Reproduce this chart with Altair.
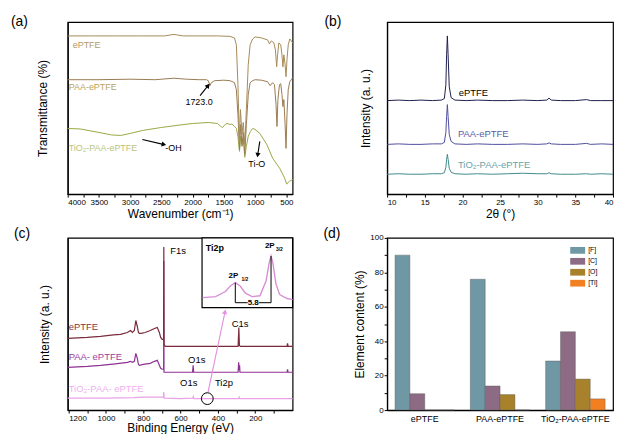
import altair as alt
import pandas as pd

FONT = "Liberation Sans"

# ---------------- (a) FTIR ----------------
a_wn_eptfe = [4000, 3600, 3200, 2800, 2450, 2300, 2150, 1900, 1600, 1400, 1330, 1300, 1275, 1252, 1235,
              1210, 1190, 1164, 1140, 1110, 1080, 1040, 1000, 900, 800, 770, 740, 700, 675, 655, 640, 620,
              590, 570, 555, 540, 520, 505, 490, 470, 445, 420, 400]
a_t_eptfe = [159, 159, 159, 159, 159, 160.5, 159, 159, 159, 158.5, 157, 150, 110, 55, 85,
             60, 72, 50, 85, 130, 150, 156, 158, 157, 155, 151, 154, 152, 145, 128, 140, 152,
             150, 140, 128, 140, 130, 118, 135, 150, 156, 154, 152]
a_wn_paa = [4000, 3500, 3000, 2600, 2300, 2100, 1900, 1780, 1750, 1723, 1700, 1650, 1500, 1400, 1330,
            1300, 1275, 1250, 1230, 1210, 1190, 1165, 1140, 1110, 1080, 1040, 1000, 900, 800, 760, 720,
            690, 665, 650, 635, 610, 590, 570, 555, 540, 520, 505, 490, 470, 445, 420, 400]
a_t_paa = [115, 115, 115.5, 115, 116.5, 115.5, 115, 115, 114, 109, 112, 114, 114.5, 114, 112,
           105, 80, 45, 70, 48, 62, 40, 70, 100, 112, 114, 115, 114.5, 113, 109, 112,
           110, 90, 68, 95, 110, 111, 100, 88, 95, 70, 46, 80, 105, 113, 115, 117]
a_wn_tio2 = [4000, 3800, 3500, 3300, 3150, 3000, 2800, 2500, 2200, 2000, 1750, 1600, 1560, 1520, 1480,
             1450, 1400, 1370, 1330, 1300, 1275, 1250, 1230, 1210, 1190, 1165, 1140, 1110, 1075, 1040,
             1000, 925, 814, 718, 607, 527, 495, 470, 448, 416, 400]
a_t_tio2 = [66, 65.5, 62, 59.5, 59, 61, 64, 67, 69.5, 71, 72, 71, 68.5, 67, 70,
            71, 70, 70.5, 68, 66, 58, 43, 58, 50, 56, 37, 48, 58, 63, 66,
            65, 61, 50, 36, 26, 16, 10, 12, 13, 14, 15]
a_lab_text = ["ePTFE", "PAA-ePTFE", "TiO₂-PAA-ePTFE", "-OH"]
a_lab_x = [3920, 3984, 3984, 2439]
a_lab_y = [150, 108, 46, 46]
a_lab_color = ["#b39a66", "#bba45a", "#b9c47e", "black"]
a_clab_text = ["1723.0", "Ti-O"]
a_clab_x = [1897, 973]
a_clab_y = [93, 30]
a_arrow_x1 = [1881, 2805, 925]
a_arrow_y1 = [99, 55, 53]
a_arrow_x2 = [1760, 2471, 957]
a_arrow_y2 = [108.5, 50, 40]
a_arrow_angle = [38, 103, 189]

# ---------------- (b) XRD ----------------
b_theta = [10, 11.5, 13, 14.5, 16, 17.2, 17.6, 17.8, 17.9, 18.0, 18.1, 18.25, 18.5, 19, 20.5, 22, 24, 26,
           28, 30, 31.2, 31.5, 31.8, 33, 35, 36.5, 37, 38.5, 40]
b_i_eptfe = [94, 94.5, 94, 94.5, 94, 94.5, 96, 110, 140, 159, 140, 108, 97, 94.5, 94, 94.5, 94, 94,
             94.5, 94, 94.5, 96.5, 94.5, 94, 94, 95, 94, 94, 94]
b_i_paa = [50, 50.5, 50, 50, 50.5, 50.5, 52, 62, 78, 90, 78, 60, 53, 50.5, 50, 50.5, 50, 50,
           50.5, 50, 50.5, 51.5, 50.5, 50, 50, 51, 50, 50.5, 50]
b_i_tio2 = [20, 20.5, 20, 20, 20.5, 20.5, 21.5, 27, 35, 40, 35, 26, 22, 20.5, 20, 20.5, 20, 20.5,
            21, 20.5, 20.5, 21.5, 20.5, 20, 20, 20.5, 20, 20.5, 20]
b_lab_text = ["ePTFE", "PAA-ePTFE", "TiO₂-PAA-ePTFE"]
b_lab_x = [19.5, 19.4, 19.4]
b_lab_y = [102, 60, 29]
b_lab_color = ["black", "#5a5aa8", "#6aa3aa"]

# ---------------- (c) XPS ----------------
c_ev_eptfe = [1205, 1100, 1029, 960, 922, 885, 869, 858, 848, 840, 832, 826, 821, 811, 790, 763, 740, 725,
              714, 707, 699, 691, 690, 689, 683, 600, 500, 400, 300, 292, 288, 285, 280, 200, 100, 30, 27, 24, 0]
c_i_eptfe = [72, 73, 74, 75.5, 76, 78, 80, 78, 80, 90, 84, 78, 77, 77, 78, 80, 82, 83,
             78, 73, 71, 71, 164, 66, 64, 64, 64, 64, 64, 64, 83, 65, 64, 64, 64, 64, 67, 64, 64]
c_ev_paa = [1205, 1100, 1029, 950, 885, 869, 858, 848, 840, 832, 826, 821, 800, 763, 740, 725, 714, 707,
            699, 691, 690, 689, 683, 600, 536, 533, 530, 400, 292, 289, 286, 284, 282, 200, 30, 27, 24, 0]
c_i_paa = [43, 44, 45, 46.5, 48, 49, 48, 49, 57, 52, 46, 45, 46, 47, 49, 50, 45, 42,
           41, 41, 150, 38, 38, 38, 38, 45, 38, 38, 38, 48, 40, 45, 38, 38, 38, 41, 38, 38]
c_ev_tio2 = [1205, 1000, 850, 800, 700, 692, 690, 688, 600, 535, 532, 529, 460, 300, 289, 286, 283, 0]
c_i_tio2 = [12, 12, 12.5, 13, 13, 13, 18, 12, 11.5, 12, 13.5, 11.5, 11.5, 11.5, 11.5, 13, 11.5, 11.5]
c_lab_text = ["F1s", "C1s", "O1s", "O1s", "Ti2p", "ePTFE", "PAA- ePTFE", "TiO₂-PAA- ePTFE"]
c_lab_x = [656, 326, 560, 603, 416, 1200, 1200, 1200]
c_lab_y = [160, 86, 50, 27, 27, 83, 53, 21]
c_lab_color = ["black", "black", "black", "black", "black", "#8b3040", "#9a40a0", "#f0b0f0"]
c_circle_x = [457]
c_circle_y = [11.5]
c_arrow_x1 = [453]
c_arrow_y1 = [18]
c_arrow_x2 = [363]
c_arrow_y2 = [98]
c_arrow_angle = [12]
# inset Ti2p
i_ev = [469.9, 467.8, 466.2, 465.4, 464.6, 463.8, 463.0, 461.9, 460.6, 459.6, 459.1, 458.8, 458.5,
        458.0, 457.4, 456.2, 455.3]
i_int = [14.3, 15.7, 23, 31, 35.7, 31, 21, 15.7, 17, 38.6, 64, 74, 64, 34, 18.6, 13, 11.4]
i_vline_x = [464.6, 458.8]
i_vline_top = [35.7, 74]
i_vline_bot = [7, 7]
i_hline_x1 = [464.6, 460.8]
i_hline_x2 = [462.6, 458.8]
i_hline_y = [7, 7]
i_frame = [470, 455.3, 0, 100]

# ---------------- (d) element content ----------------
d_samples = ["ePTFE", "PAA-ePTFE", "TiO₂-PAA-ePTFE"]
d_elements = ["F", "C", "O", "Ti"]
d_values = {
    "F": [90, 76, 28.5],
    "C": [9.5, 14, 45.5],
    "O": [0, 9, 18],
    "Ti": [0, 0, 6.5],
}
d_colors = ["#6f98a4", "#8d6b84", "#a8812c", "#f27f20"]

panel_labels = ["(a)", "(b)", "(c)", "(d)"]


def df_xy(xs, ys):
    return pd.DataFrame({"x": xs, "y": ys})


def lines(xs, ys, color, X, Y, w=1.0):
    return alt.Chart(df_xy(xs, ys)).mark_line(color=color, strokeWidth=w).encode(x=X, y=Y)


def texts(xs, ys, ts, cs, X, Y, align="left", size=9.5, weight="normal"):
    d = pd.DataFrame({"x": xs, "y": ys, "t": ts, "c": cs})
    return alt.Chart(d).mark_text(align=align, baseline="middle", font=FONT, fontSize=size,
                                  fontWeight=weight).encode(
        x=X, y=Y, text="t:N", color=alt.Color("c:N", scale=None))


def arrows(x1, y1, x2, y2, ang, X, Y, color="black"):
    d = pd.DataFrame({"x": x1, "y": y1, "x2": x2, "y2": y2})
    r = alt.Chart(d).mark_rule(color=color, strokeWidth=1.1).encode(x=X, y=Y, x2="x2:Q", y2="y2:Q")
    h = alt.Chart(pd.DataFrame({"x": x2, "y": y2, "a": ang})).mark_point(
        shape="triangle", filled=True, color=color, size=28, opacity=1).encode(
        x=X, y=Y, angle=alt.Angle("a:Q", scale=None))
    return r + h


def plabel(t, dx, dy):
    return alt.Chart(pd.DataFrame({"t": [t]})).mark_text(
        align="left", baseline="middle", font=FONT, fontSize=14, color="black").encode(
        x=alt.value(dx), y=alt.value(dy), text="t:N")


def yaxis_blank(title, pad):
    return alt.Axis(labels=False, ticks=False, title=title, titlePadding=pad)


# ---- panel a
Xa = alt.X("x:Q", scale=alt.Scale(domain=[4000, 400], nice=False),
           axis=alt.Axis(values=list(range(4000, 399, -250)), format="d",
                         labelExpr="datum.value % 500 == 0 ? datum.label : ''",
                         title="Wavenumber (cm⁻¹)"))
Ya = alt.Y("y:Q", scale=alt.Scale(domain=[0, 173], nice=False), axis=yaxis_blank("Transmittance (%)", 18))
pa = alt.layer(
    lines(a_wn_tio2, a_t_tio2, "#98a844", Xa, Ya),
    lines(a_wn_paa, a_t_paa, "#9a7b52", Xa, Ya),
    lines(a_wn_eptfe, a_t_eptfe, "#a58a58", Xa, Ya),
    texts(a_lab_x, a_lab_y, a_lab_text, a_lab_color, Xa, Ya, size=9),
    texts(a_clab_x, a_clab_y, a_clab_text, ["black", "black"], Xa, Ya, align="center", size=9),
    arrows(a_arrow_x1, a_arrow_y1, a_arrow_x2, a_arrow_y2, a_arrow_angle, Xa, Ya),
    plabel(panel_labels[0], -57, 0),
).properties(width=226, height=173)

# ---- panel b
Xb = alt.X("x:Q", scale=alt.Scale(domain=[10, 40], nice=False),
           axis=alt.Axis(values=[10 + 2.5 * k for k in range(13)], format="~g",
                         labelExpr="datum.value % 5 == 0 ? datum.label : ''", title="2θ (°)"))
Yb = alt.Y("y:Q", scale=alt.Scale(domain=[0, 173], nice=False), axis=yaxis_blank("Intensity (a. u.)", 15))
pb = alt.layer(
    lines(b_theta, b_i_tio2, "#3f8a8c", Xb, Yb),
    lines(b_theta, b_i_paa, "#4f4f9c", Xb, Yb),
    lines(b_theta, b_i_eptfe, "#1e1e4e", Xb, Yb),
    texts(b_lab_x, b_lab_y, b_lab_text, b_lab_color, Xb, Yb, size=9.5),
    plabel(panel_labels[1], -63, 0),
).properties(width=227, height=173)

# ---- panel c
Xc = alt.X("x:Q", scale=alt.Scale(domain=[1205, 0], nice=False),
           axis=alt.Axis(values=list(range(1200, 99, -100)), format="d",
                         labelExpr="datum.value % 200 == 0 ? datum.label : ''",
                         title="Binding Energy (eV)", titlePadding=1))
Yc = alt.Y("y:Q", scale=alt.Scale(domain=[0, 173], nice=False), axis=yaxis_blank("Intensity (a. u.)", 16))
circ = alt.Chart(df_xy(c_circle_x, c_circle_y)).mark_point(
    shape="circle", filled=False, color="black", size=140, strokeWidth=1, opacity=1).encode(x=Xc, y=Yc)
main_c = alt.layer(
    lines(c_ev_tio2, c_i_tio2, "#e9a2e6", Xc, Yc, 1.2),
    lines(c_ev_paa, c_i_paa, "#8e3192", Xc, Yc, 1.2),
    lines(c_ev_eptfe, c_i_eptfe, "#7a2a3a", Xc, Yc, 1.2),
    texts(c_lab_x, c_lab_y, c_lab_text, c_lab_color, Xc, Yc, size=9.5),
    circ,
    arrows(c_arrow_x1, c_arrow_y1, c_arrow_x2, c_arrow_y2, c_arrow_angle, Xc, Yc, color="#e38ee0"),
    plabel(panel_labels[2], -54, -4),
)
Xi = alt.X("x:Q", scale=alt.Scale(domain=[470, 455.3], range=[135, 226], nice=False, zero=False), axis=None)
Yi = alt.Y("y:Q", scale=alt.Scale(domain=[0, 100], range=[70, 0], nice=False, zero=False), axis=None)
frame = alt.Chart(pd.DataFrame({"x": [i_frame[0]], "x2": [i_frame[1]], "y": [i_frame[2]],
                                "y2": [i_frame[3]]})).mark_rect(
    fill="white", stroke="black", strokeWidth=1.2).encode(x=Xi, x2="x2:Q", y=Yi, y2="y2:Q")
vl = alt.Chart(pd.DataFrame({"x": i_vline_x, "y": i_vline_top, "y2": i_vline_bot})).mark_rule(
    color="black", strokeWidth=1).encode(x=Xi, y=Yi, y2="y2:Q")
hl = alt.Chart(pd.DataFrame({"x": i_hline_x1, "x2": i_hline_x2, "y": i_hline_y})).mark_rule(
    color="black", strokeWidth=1).encode(x=Xi, x2="x2:Q", y=Yi)
inset = alt.layer(
    frame,
    lines(i_ev, i_int, "#d98fd6", Xi, Yi, 1.4),
    vl, hl,
    texts([469.4], [85.7], ["Ti2p"], ["black"], Xi, Yi, size=9, weight="bold"),
    texts([465.7, 459.8], [45.7, 88.6], ["2P", "2P"], ["black", "black"], Xi, Yi, size=8, weight="bold"),
    texts([463.6, 458.0], [41, 84], ["1/2", "3/2"], ["black", "black"], Xi, Yi, size=5, weight="bold"),
    texts([461.7], [6], ["5.8"], ["black"], Xi, Yi, align="center", size=8, weight="bold"),
)
pc = alt.layer(main_c, inset).resolve_scale(x="independent", y="independent").properties(
    width=226, height=173)

# ---- panel d
rows = []
for el in d_elements:
    for s, v in zip(d_samples, d_values[el]):
        rows.append({"sample": s, "element": el, "value": v})
ddf = pd.DataFrame(rows)
bars = alt.Chart(ddf).mark_bar(stroke="#555555", strokeWidth=0.4).encode(
    x=alt.X("sample:N", sort=d_samples, scale=alt.Scale(paddingInner=0.21, paddingOuter=0.105),
            axis=alt.Axis(title=None, labelAngle=0, ticks=False, labelFontSize=9, labelPadding=4)),
    xOffset=alt.XOffset("element:N", sort=d_elements, scale=alt.Scale(paddingInner=0, paddingOuter=0)),
    y=alt.Y("value:Q", scale=alt.Scale(domain=[0, 100], nice=False),
            axis=alt.Axis(values=list(range(0, 101, 10)), format="d",
                          labelExpr="datum.value % 20 == 0 ? datum.label : ''",
                          title="Element content (%)", titlePadding=3)),
    color=alt.Color("element:N", sort=d_elements,
                    scale=alt.Scale(domain=d_elements, range=d_colors),
                    legend=alt.Legend(title=None, orient="none", legendX=184, legendY=5,
                                      symbolType="M-1,-0.45H1V0.45H-1Z", symbolSize=225,
                                      symbolStrokeWidth=0, labelFontSize=7, labelFont=FONT,
                                      labelExpr="'[' + datum.label + ']'", rowPadding=-7,
                                      labelOffset=3, padding=0)),
)
pd_chart = alt.layer(bars, plabel(panel_labels[3], -64, -4)).properties(width=227, height=173)

chart = alt.concat(pa, pb, pc, pd_chart, columns=2, spacing={"row": 44, "column": 95},
                   bounds="flush").resolve_scale(color="independent").resolve_legend(
    color="independent").properties(
    padding={"left": 2, "top": 5, "right": 0, "bottom": 0}
).configure_view(stroke="black", strokeWidth=1.2).configure_axis(
    labelFont=FONT, titleFont=FONT, labelFontSize=8, titleFontSize=12, titleFontWeight="normal",
    labelColor="black", titleColor="black", domainColor="black", tickColor="black",
    tickSize=3, labelPadding=1, titlePadding=2, grid=False, domainWidth=1.2
)

chart.save("out.html", embed_options={"renderer": "svg", "actions": False})
